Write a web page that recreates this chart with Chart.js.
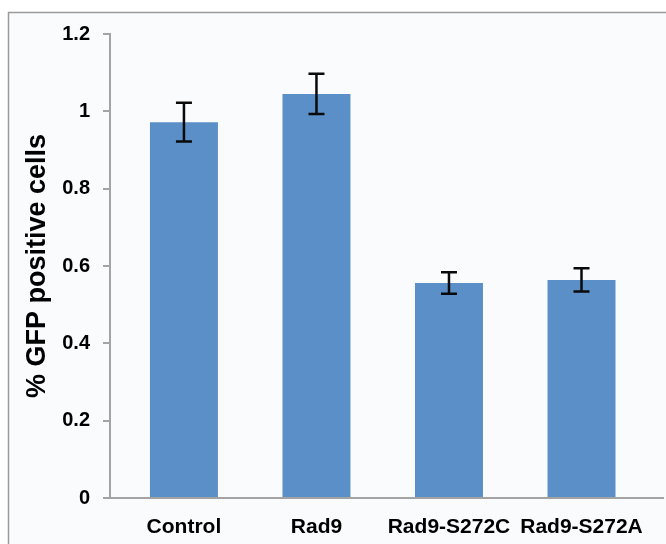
<!DOCTYPE html>
<html>
<head>
<meta charset="utf-8">
<script src="https://cdn.jsdelivr.net/npm/chart.js@4/dist/chart.umd.min.js"></script>
<style>
  html, body { margin: 0; padding: 0; background: #ffffff; }
  #wrap { width: 666px; height: 544px; }
</style>
</head>
<body>
<div id="wrap"><canvas id="gfpChart" width="666" height="544"></canvas></div>
<script>
// Datos
const categories = ['Control', 'Rad9', 'Rad9-S272C', 'Rad9-S272A'];
const gfpValues = [0.972, 1.045, 0.556, 0.564];
const gfpErrors = [0.050, 0.052, 0.028, 0.030];
const yTicks = [0, 0.2, 0.4, 0.6, 0.8, 1, 1.2];

const FONT = "'Liberation Sans', Arial, Helvetica, sans-serif";
const AXIS_GREY = '#a3a3a3';

// Marco gris y fondo claro, como en la figura original
const framePlugin = {
    id: 'frame',
    beforeDraw(chart) {
        const c = chart.ctx;
        c.save();
        c.fillStyle = '#ffffff';
        c.fillRect(0, 0, chart.width, chart.height);
        c.fillStyle = '#fafbfd';
        c.fillRect(8, 12, chart.width - 8, chart.height - 12);
        c.strokeStyle = '#9a9a9a';
        c.lineWidth = 1.5;
        c.beginPath();
        c.moveTo(8.5, chart.height);
        c.lineTo(8.5, 12.5);
        c.lineTo(chart.width, 12.5);
        c.stroke();
        c.restore();
    }
};

// Barras de error (desviacion)
const errorBarPlugin = {
    id: 'errorBars',
    afterDatasetsDraw(chart) {
        const c = chart.ctx;
        const yScale = chart.scales.y;
        const meta = chart.getDatasetMeta(0);
        c.save();
        c.strokeStyle = '#0a0a0a';
        c.lineWidth = 2.5;
        meta.data.forEach((bar, i) => {
            const top = yScale.getPixelForValue(gfpValues[i] + gfpErrors[i]);
            const bottom = yScale.getPixelForValue(gfpValues[i] - gfpErrors[i]);
            const cap = 8;
            c.beginPath();
            c.moveTo(bar.x, top);
            c.lineTo(bar.x, bottom);
            c.moveTo(bar.x - cap, top);
            c.lineTo(bar.x + cap, top);
            c.moveTo(bar.x - cap, bottom);
            c.lineTo(bar.x + cap, bottom);
            c.stroke();
        });
        c.restore();
    }
};

const ctx = document.getElementById('gfpChart');

new Chart(ctx, {
    type: 'bar',
    data: {
        datasets: [{
            label: '% GFP positive cells',
            data: gfpValues.map((v, i) => ({ x: i, y: v })),
            backgroundColor: '#5b8fc8',
            borderWidth: 0,
            categoryPercentage: 1,
            barPercentage: 0.513
        }]
    },
    options: {
        responsive: false,
        animation: false,
        events: [],
        layout: {
            padding: { top: 34, right: 3, bottom: 0, left: 0 }
        },
        plugins: {
            legend: { display: false },
            tooltip: { enabled: false }
        },
        scales: {
            x: {
                type: 'linear',
                offset: false,
                min: -0.558,
                max: 3.615,
                afterBuildTicks: (scale) => {
                    scale.ticks = categories.map((_, i) => ({ value: i }));
                },
                afterFit: (scale) => { scale.height = 46; },
                grid: { display: false },
                border: { display: true, color: AXIS_GREY, width: 2 },
                ticks: {
                    autoSkip: false,
                    maxRotation: 0,
                    padding: 9,
                    color: '#000000',
                    font: { family: FONT, size: 21, weight: 'bold' },
                    callback: (value) => categories[value] ?? ''
                }
            },
            y: {
                min: 0,
                max: 1.2,
                afterBuildTicks: (scale) => {
                    scale.ticks = yTicks.map(v => ({ value: v }));
                },
                afterFit: (scale) => { scale.width = 110; },
                grid: {
                    drawOnChartArea: false,
                    drawTicks: true,
                    tickLength: 7,
                    color: AXIS_GREY,
                    lineWidth: 2
                },
                border: { display: true, color: AXIS_GREY, width: 2 },
                ticks: {
                    padding: 13,
                    color: '#000000',
                    font: { family: FONT, size: 20, weight: 'bold' },
                    callback: (value) => String(value)
                },
                title: {
                    display: true,
                    text: '% GFP positive cells',
                    color: '#000000',
                    padding: { top: 21, bottom: 0 },
                    font: { family: FONT, size: 27, weight: 'bold' }
                }
            }
        }
    },
    plugins: [framePlugin, errorBarPlugin]
});
</script>
</body>
</html>
